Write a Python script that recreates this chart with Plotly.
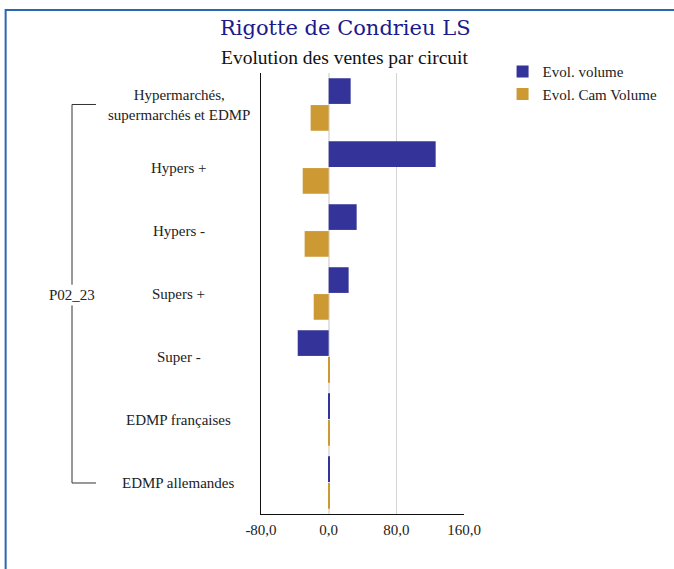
import plotly.graph_objects as go

categories = [
    "Hypermarchés, supermarchés et EDMP",
    "Hypers +",
    "Hypers -",
    "Supers +",
    "Super -",
    "EDMP françaises",
    "EDMP allemandes",
]
category_labels = [
    "Hypermarchés,<br>supermarchés et EDMP",
    "Hypers +",
    "Hypers -",
    "Supers +",
    "Super -",
    "EDMP françaises",
    "EDMP allemandes",
]
evol_volume = [26.0, 126.5, 33.1, 23.6, -36.6, 1.0, 1.0]
evol_cam_volume = [-21.3, -30.7, -28.4, -17.7, 1.0, 1.0, 1.0]
series_names = ["Evol. volume", "Evol. Cam Volume"]
group_label = "P02_23"
title_text = "Rigotte de Condrieu LS"
subtitle_text = "Evolution des ventes par circuit"
x_ticks = [-80, 0, 80, 160]
x_tick_labels = ["-80,0", "0,0", "80,0", "160,0"]

FONT = "Liberation Serif"

fig = go.Figure()
fig.add_trace(go.Bar(y=categories, x=evol_volume, orientation="h",
                     name=series_names[0], marker_color="#333399",
                     marker_line_width=0))
fig.add_trace(go.Bar(y=categories, x=evol_cam_volume, orientation="h",
                     name=series_names[1], marker_color="#CC9933",
                     marker_line_width=0))

annotations = []
for cat, lab in zip(categories, category_labels):
    annotations.append(dict(x=-0.404, xref="paper", y=cat, yref="y",
                            text=lab, showarrow=False, xanchor="center",
                            yanchor="middle", align="center",
                            font=dict(family=FONT, size=15, color="#222222")))
annotations.append(dict(x=-0.931, xref="paper", y=0.4966, yref="paper",
                        text=group_label, showarrow=False, xanchor="center",
                        yanchor="middle",
                        font=dict(family=FONT, size=15, color="#222222")))
annotations.append(dict(x=0.416, xref="paper", y=1.102, yref="paper",
                        text=title_text, showarrow=False, xanchor="center",
                        yanchor="middle",
                        font=dict(family="DejaVu Serif", size=21, color="#1a1a8c")))
annotations.append(dict(x=0.416, xref="paper", y=1.036, yref="paper",
                        text=subtitle_text, showarrow=False, xanchor="center",
                        yanchor="middle",
                        font=dict(family=FONT, size=19.5, color="#111111")))

bx = -0.931
bx2 = -0.813
line_style = dict(color="#333333", width=1)
shapes = [
    dict(type="line", xref="paper", yref="paper", x0=bx, x1=bx2, y0=0.9286, y1=0.9286, line=line_style),
    dict(type="line", xref="paper", yref="paper", x0=bx, x1=bx, y0=0.9286, y1=0.52, line=line_style),
    dict(type="line", xref="paper", yref="paper", x0=bx, x1=bx, y0=0.473, y1=0.0703, line=line_style),
    dict(type="line", xref="paper", yref="paper", x0=bx, x1=bx2, y0=0.0703, y1=0.0703, line=line_style),
    dict(type="path", xref="paper", yref="paper",
         path="M -1.258,-0.13 L -1.258,1.1429 L 2.04,1.1429",
         line=dict(color="#2a66b8", width=2)),
]

fig.update_layout(
    width=674, height=569,
    margin=dict(l=261, r=210, t=73, b=55),
    paper_bgcolor="white", plot_bgcolor="white",
    barmode="group", bargap=0.148, bargroupgap=0.043,
    separators=", ",
    font=dict(family=FONT, size=15, color="#222222"),
    annotations=annotations,
    shapes=shapes,
    legend=dict(x=1.19, xanchor="left", y=1.04, yanchor="top",
                font=dict(family=FONT, size=15, color="#222222"),
                itemwidth=30, tracegroupgap=0, bgcolor="rgba(0,0,0,0)"),
    xaxis=dict(range=[-80, 160], tickvals=x_ticks, ticktext=x_tick_labels,
               showgrid=True, gridcolor="#d4d4d4", gridwidth=1,
               zeroline=True, zerolinecolor="#e2e2e2", zerolinewidth=2,
               showline=True, linecolor="#111111", linewidth=1,
               ticks="outside", ticklen=2, tickcolor="rgba(0,0,0,0)",
               tickfont=dict(family=FONT, size=15, color="#222222"),
               fixedrange=True),
    yaxis=dict(autorange="reversed", showticklabels=False, showgrid=False,
               showline=True, linecolor="#111111", linewidth=1,
               ticks="", fixedrange=True),
)

fig.write_html("out.html", config={"displayModeBar": False},
               post_script="document.body.style.margin='0px';document.body.style.overflow='hidden';")
